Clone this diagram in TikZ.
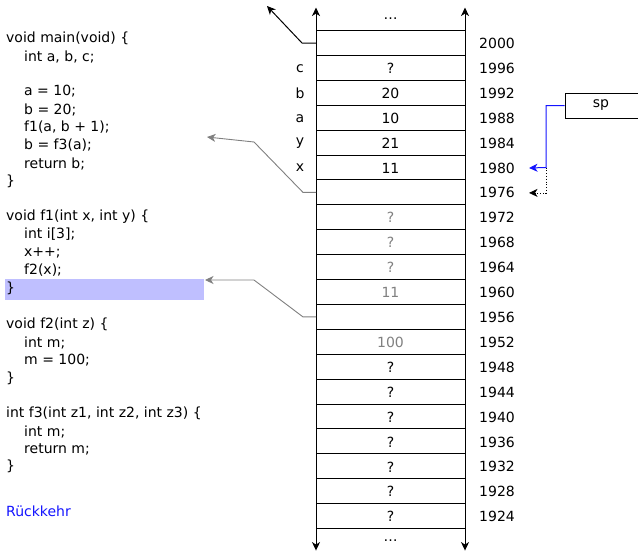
\documentclass[tikz,border=0pt]{standalone}
\usepackage{fontspec}
\setmainfont{DejaVu Sans}
\usetikzlibrary{arrows.meta}
\definecolor{hl}{RGB}{191,191,255}
\definecolor{faded}{RGB}{128,128,128}
\definecolor{spblue}{RGB}{20,20,255}
\begin{document}
\begin{tikzpicture}[x=1pt,y=-1pt,
  every node/.style={font=\fontsize{14}{16}\selectfont},
  cell/.style={draw,line width=1pt,minimum width=149pt,minimum height=24.9pt,inner sep=0pt,outer sep=0pt},
  addr/.style={anchor=west,inner sep=0pt},
  varname/.style={inner sep=0pt},
  code/.style={anchor=west,inner sep=0pt},
  tip/.style={-{Stealth[length=8.5pt,width=8pt,inset=2.5pt]}},
  retarrow/.style={tip,draw=faded,line width=0.9pt}]
\useasboundingbox (0,0) rectangle (638,552);
% highlight
\fill[hl] (5,279) rectangle (204,300);
% stack
\foreach \i [evaluate=\i as \addr using int(2000-4*\i)] in {0,...,19}{
  \node[cell] (c\addr) at (390.5,{43+24.9*\i}) {};
  \node[addr] (a\addr) at (479,{43.5+24.9*\i}) {\addr};
}
\foreach \a/\v in {1996/?,1992/20,1988/10,1984/21,1980/11,1948/?,1944/?,1940/?,1936/?,1932/?,1928/?,1924/?}
  \node[inner sep=0pt] at ([yshift=-0.5pt]c\a.center) {\v};
\foreach \a/\v in {1972/?,1968/?,1964/?,1960/11,1952/100}
  \node[inner sep=0pt,text=faded] at ([yshift=-0.5pt]c\a.center) {\v};
\foreach \a/\v in {1996/c,1992/b,1988/a,1984/y,1980/x}
  \node[varname] (v\v) at (300,{43.5+24.9*(2000-\a)/4}) {\v};
\node[inner sep=0pt] (dtop) at (390.5,19) {…};
\node[inner sep=0pt] (dbot) at (390.5,541) {…};
\draw[tip,line width=1pt] (c2000.north west) -- ++(0,-23);
\draw[tip,line width=1pt] (c2000.north east) -- ++(0,-23);
\draw[tip,line width=1pt] (c1924.south west) -- ++(0,22);
\draw[tip,line width=1pt] (c1924.south east) -- ++(0,22);
% return arrows
\coordinate (r0) at (267,6);
\coordinate (r1) at (207,137);
\coordinate (r2) at (205,280);
\draw[tip,line width=1pt] (c2000.west) -- ++(-14,0) -- (r0);
\draw[retarrow] (c1976.west) -- ++(-13,0) -- (254,142) -- (r1);
\draw[retarrow] (c1956.west) -- ++(-13,0) -- (254,280) -- (r2);
% sp
\node[draw,line width=1pt,minimum width=74pt,minimum height=25pt,inner sep=0pt] (sp) at (602,105.5) {};
\node[inner sep=0pt] at (601,105.5) {sp};
\coordinate (spb) at (546,{43+24.9*5});
\draw[tip,spblue,line width=1pt] (sp.west) -| (spb) -- ([xshift=14pt]a1980.east);
\draw[tip,dotted,line width=0.8pt] (spb) |- ([xshift=14pt]a1976.east);
% code
\foreach \t/\x/\y in {
  {void main(void) \{}/6/38.5,
  {int a, b, c;}/24/56.5,
  {a = 10;}/24/91.5,
  {b = 20;}/24/109.5,
  {f1(a, b + 1);}/24/127.5,
  {b = f3(a);}/24/145.5,
  {return b;}/24/163.5,
  {\}}/6/181.5,
  {void f1(int x, int y) \{}/6/216.5,
  {int i[3];}/24/234.5,
  {x++;}/24/252.5,
  {f2(x);}/24/270,
  {\}}/6/288.5,
  {void f2(int z) \{}/6/324.5,
  {int m;}/24/342.5,
  {m = 100;}/24/360.5,
  {\}}/6/378.5,
  {int f3(int z1, int z2, int z3) \{}/6/413.5,
  {int m;}/24/431.5,
  {return m;}/24/449.5,
  {\}}/6/466.5}
  \node[code] at (\x,\y) {\t};
\node[code,text=spblue] (ret) at (6,511.5) {Rückkehr};
\end{tikzpicture}
\end{document}
